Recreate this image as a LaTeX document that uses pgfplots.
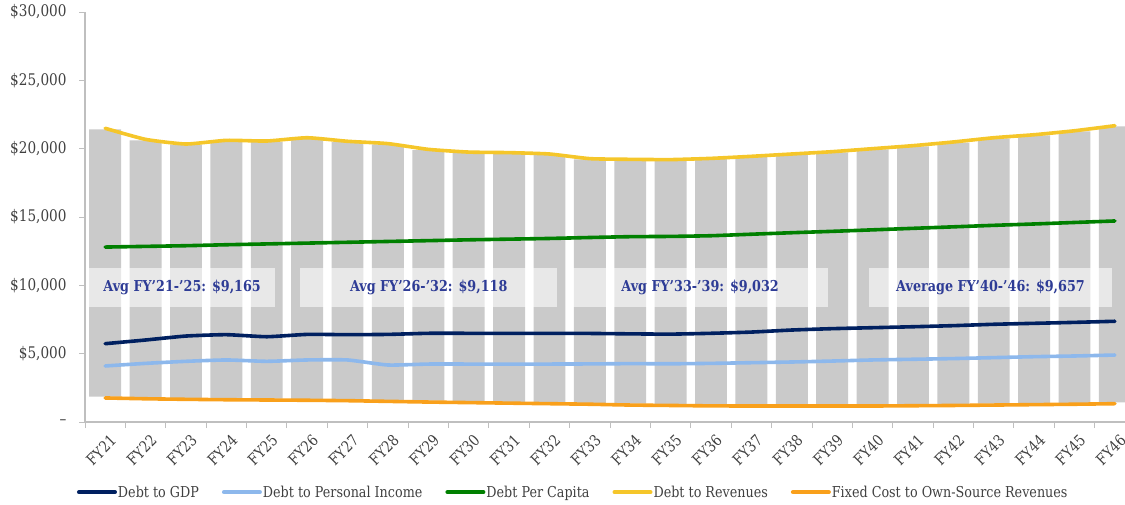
\documentclass[border=0pt]{standalone}
\usepackage{fontspec}
\setmainfont{DejaVu Serif}[FakeStretch=0.85]
\usepackage{pgfplots}
\usepackage{pgfplotstable}
\pgfplotsset{compat=1.18}

\definecolor{cNavy}{HTML}{002060}
\definecolor{cLBlue}{HTML}{8DB8EC}
\definecolor{cGreen}{HTML}{008000}
\definecolor{cYellow}{HTML}{F5C62A}
\definecolor{cOrange}{HTML}{F9A01B}
\definecolor{cBar}{HTML}{CACACA}
\definecolor{cAnn}{HTML}{2E3C96}
\definecolor{cAxis}{HTML}{BFBFBF}
\definecolor{cText}{HTML}{404040}

\pgfplotstableread{
i  dr     dpc    gdp   dpi   fc    bot   top
0  21490  12800  5730  4100  1760  1850  21420
1  20680  12850  6000  4290  1700  1800  20600
2  20340  12900  6290  4440  1660  1760  20300
3  20610  12970  6390  4540  1630  1730  20560
4  20560  13030  6240  4440  1610  1710  20500
5  20800  13090  6410  4540  1590  1690  20730
6  20540  13150  6390  4540  1560  1660  20480
7  20370  13210  6410  4170  1510  1610  20310
8  19950  13270  6490  4240  1460  1560  19890
9  19750  13330  6490  4240  1420  1520  19700
10 19710  13380  6490  4240  1380  1480  19650
11 19610  13430  6490  4240  1340  1440  19550
12 19270  13500  6480  4250  1300  1400  19220
13 19220  13560  6450  4270  1240  1340  19170
14 19200  13580  6430  4260  1210  1310  19150
15 19290  13630  6490  4290  1180  1280  19240
16 19440  13740  6580  4340  1170  1270  19390
17 19610  13850  6730  4390  1170  1270  19560
18 19780  13950  6830  4460  1170  1270  19730
19 20000  14060  6900  4540  1170  1270  19950
20 20220  14170  6970  4590  1190  1290  20170
21 20490  14280  7050  4640  1210  1310  20440
22 20800  14390  7150  4710  1240  1340  20750
23 21020  14490  7220  4780  1270  1370  20970
24 21310  14600  7290  4830  1300  1400  21260
25 21680  14710  7370  4900  1340  1440  21630
}\datatable

\pgfplotsset{
  common/.style={
    scale only axis, width=1040pt, height=410pt,
    at={(85pt,82pt)}, anchor=south west,
    xmin=-0.5, xmax=25.25, ymin=0, ymax=30000,
    enlargelimits=false,
  }
}

\begin{document}
\begin{tikzpicture}
\useasboundingbox (0,0) rectangle (1125pt,504pt);

% --- axis 1: floating bars
\begin{axis}[common, hide axis, ybar stacked, bar width=0.79]
  \addplot[draw=none, fill=none] table[x=i, y=bot] {\datatable};
  \addplot[draw=none, fill=cBar] table[x=i, y expr=\thisrow{top}-\thisrow{bot}] {\datatable};
\end{axis}

% --- axis 2: boxes, lines, axes, legend
\begin{axis}[common,
  axis x line*=bottom, axis y line*=left,
  axis line style={draw=cAxis, line width=1.2pt},
  tick style={draw=cAxis, line width=1pt},
  tick align=outside,
  major tick length=6pt,
  ytick={0,5000,10000,15000,20000,25000,30000},
  yticklabels={–,{\$5,000},{\$10,000},{\$15,000},{\$20,000},{\$25,000},{\$30,000}},
  yticklabel style={font=\fontsize{16}{19}\selectfont, text=cText, xshift=-9pt},
  xtick={-0.5,0.5,...,24.5},
  xticklabels={},
  extra x ticks={0,...,25},
  extra x tick labels={FY21,FY22,FY23,FY24,FY25,FY26,FY27,FY28,FY29,FY30,FY31,FY32,FY33,FY34,FY35,FY36,FY37,FY38,FY39,FY40,FY41,FY42,FY43,FY44,FY45,FY46},
  extra x tick style={major tick length=0pt,
    xticklabel style={font=\fontsize{15.5}{18}\selectfont, text=cText, rotate=45, anchor=east, yshift=-17pt, xshift=-2pt}},
  legend columns=5,
  legend style={at={(0.469,-0.171)}, anchor=center, draw=none, fill=none,
    font=\fontsize{15}{18}\selectfont, text=cText,
    /tikz/every odd column/.append style={column sep=0pt},
    /tikz/every even column/.append style={column sep=22pt},
    nodes={inner sep=1pt}},
  legend image code/.code={\draw[#1, line width=4pt] (0pt,0pt) -- (36pt,0pt);},
  every axis plot/.append style={line width=3.6pt, line join=round, line cap=round},
]
  \begin{scope}
  \fill[white, fill opacity=0.57] (axis cs:-0.40,8440) rectangle (axis cs:4.21,11270);
  \fill[white, fill opacity=0.57] (axis cs:4.83,8440) rectangle (axis cs:11.19,11270);
  \fill[white, fill opacity=0.57] (axis cs:11.56,8440) rectangle (axis cs:17.90,11270);
  \fill[white, fill opacity=0.57] (axis cs:18.91,8440) rectangle (axis cs:24.93,11270);
  \end{scope}
  \node[text=cAnn, font=\fontsize{15}{18}\selectfont\bfseries] at (axis cs:1.905,9855) {Avg FY’21-’25: \$9,165};
  \node[text=cAnn, font=\fontsize{15}{18}\selectfont\bfseries] at (axis cs:8.01,9855) {Avg FY’26-’32: \$9,118};
  \node[text=cAnn, font=\fontsize{15}{18}\selectfont\bfseries] at (axis cs:14.73,9855) {Avg FY’33-’39: \$9,032};
  \node[text=cAnn, font=\fontsize{15}{18}\selectfont\bfseries] at (axis cs:21.92,9855) {Average FY’40-’46: \$9,657};
  \addplot[cNavy, smooth, tension=0.3] table[x=i, y=gdp] {\datatable};
  \addlegendentry{Debt to GDP}
  \addplot[cLBlue, smooth, tension=0.3] table[x=i, y=dpi] {\datatable};
  \addlegendentry{Debt to Personal Income}
  \addplot[cGreen, smooth, tension=0.3] table[x=i, y=dpc] {\datatable};
  \addlegendentry{Debt Per Capita}
  \addplot[cYellow, smooth, tension=0.3] table[x=i, y=dr] {\datatable};
  \addlegendentry{Debt to Revenues}
  \addplot[cOrange, smooth, tension=0.3] table[x=i, y=fc] {\datatable};
  \addlegendentry{Fixed Cost to Own-Source Revenues}
\end{axis}
\end{tikzpicture}
\end{document}
